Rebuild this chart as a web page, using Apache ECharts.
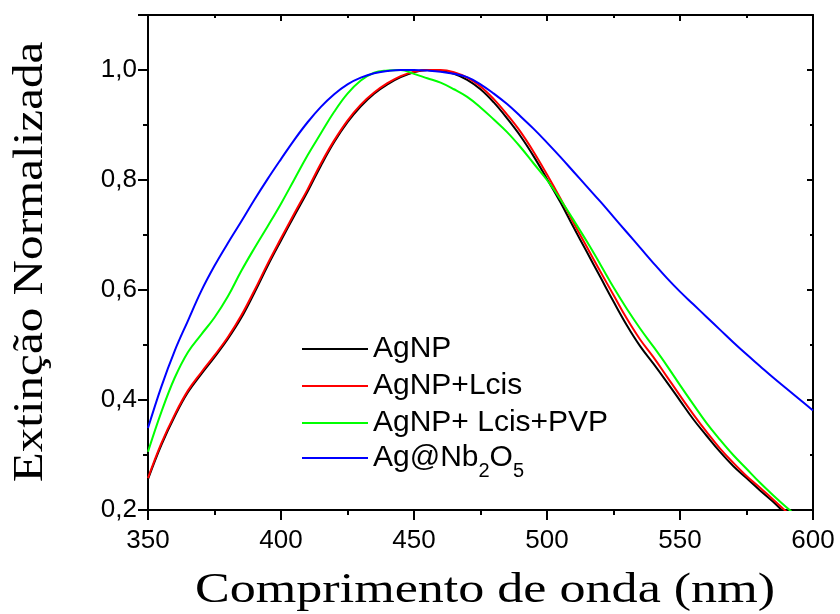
<!DOCTYPE html>
<html>
<head>
<meta charset="utf-8">
<script src="https://cdn.jsdelivr.net/npm/echarts@6/dist/echarts.min.js"></script>
<style>html,body{margin:0;padding:0;background:#fff}#c{width:840px;height:614px}</style>
</head>
<body>
<div id="c"></div>
<script>
const wavelength = [350,355,360,365,370,375,380,385,390,395,400,405,410,415,420,425,430,435,440,445,450,455,460,465,470,475,480,485,490,495,500,505,510,515,520,525,530,535,540,545,550,555,560,565,570,575,580,585,590,595,600];
const agnp = [0.256,0.318,0.370,0.414,0.447,0.478,0.511,0.549,0.595,0.644,0.690,0.735,0.779,0.826,0.869,0.905,0.934,0.957,0.974,0.987,0.996,1.000,0.998,0.993,0.982,0.965,0.941,0.912,0.880,0.843,0.802,0.760,0.714,0.669,0.624,0.579,0.536,0.498,0.466,0.433,0.399,0.365,0.335,0.306,0.280,0.258,0.236,0.215,0.192,0.172,0.153];
const agnpLcis = [0.258,0.321,0.373,0.417,0.450,0.481,0.514,0.553,0.599,0.648,0.694,0.739,0.783,0.830,0.872,0.908,0.937,0.959,0.976,0.989,0.997,1.000,1.000,0.996,0.986,0.970,0.947,0.919,0.888,0.851,0.810,0.767,0.722,0.678,0.634,0.591,0.548,0.510,0.478,0.443,0.408,0.374,0.342,0.312,0.286,0.262,0.241,0.219,0.197,0.176,0.157];
const agnpLcisPvp = [0.306,0.378,0.440,0.487,0.519,0.550,0.588,0.634,0.676,0.716,0.757,0.801,0.845,0.885,0.924,0.957,0.981,0.995,0.999,1.000,0.993,0.985,0.977,0.965,0.951,0.932,0.910,0.887,0.860,0.830,0.800,0.765,0.727,0.688,0.647,0.605,0.566,0.530,0.497,0.463,0.427,0.392,0.358,0.328,0.300,0.275,0.250,0.227,0.205,0.184,0.165];
const agNb2o5 = [0.349,0.424,0.489,0.544,0.598,0.644,0.685,0.724,0.764,0.802,0.838,0.873,0.905,0.933,0.956,0.974,0.986,0.994,0.998,1.000,1.000,0.999,0.997,0.993,0.987,0.974,0.957,0.938,0.916,0.893,0.868,0.842,0.815,0.788,0.761,0.733,0.705,0.677,0.649,0.622,0.597,0.574,0.551,0.528,0.505,0.483,0.462,0.441,0.421,0.401,0.381];
const seriesNames = ['AgNP','AgNP+Lcis','AgNP+ Lcis+PVP','Ag@Nb2O5'];
const seriesColors = ['#000000','#ff0000','#00ff00','#0000ff'];
const xTicks = [350,400,450,500,550,600];
const yTicks = [0.2,0.4,0.6,0.8,1.0];
const xTitle = 'Comprimento de onda (nm)';
const yTitle = 'Extinção Normalizada';

const allValues = [agnp, agnpLcis, agnpLcisPvp, agNb2o5];
const chart = echarts.init(document.getElementById('c'), null, {renderer:'canvas'});
const axisCommon = {
  axisLine:{show:true, onZero:false, lineStyle:{color:'#000', width:2}},
  splitLine:{show:false}
};
const sans = 'Liberation Sans, Arial, sans-serif';
const labelFont = {fontFamily:sans, fontSize:26, color:'#000'};
const serif = 'Liberation Serif, Times New Roman, serif';
const legendText = {fontFamily:sans, fontSize:30, color:'#000',
  rich:{
    n:{fontFamily:sans, fontSize:30, color:'#000', lineHeight:30},
    s:{fontFamily:sans, fontSize:20, color:'#000', lineHeight:8, padding:[26,0,0,0]}
  }};
const legendFmt = function(n){ return n === 'Ag@Nb2O5' ? '{n|Ag@Nb}{s|2}{n|O}{s|5}' : '{n|' + n + '}'; };
chart.setOption({
  animation:false,
  backgroundColor:'#fff',
  grid:{left:148, right:27, top:15, bottom:104, containLabel:false},
  xAxis:[
    Object.assign({type:'value', min:xTicks[0], max:xTicks[xTicks.length-1], interval:50, position:'bottom',
      axisTick:{show:true, inside:false, length:10, lineStyle:{width:2,color:'#000'}},
      minorTick:{show:true, splitNumber:2, length:5, lineStyle:{width:2,color:'#000'}},
      axisLabel:Object.assign({margin:18}, labelFont)}, axisCommon),
    Object.assign({type:'value', min:xTicks[0], max:xTicks[xTicks.length-1], interval:50, position:'top',
      axisTick:{show:true, inside:true, length:6, lineStyle:{width:2,color:'#000'}},
      minorTick:{show:true, splitNumber:2, length:3, lineStyle:{width:2,color:'#000'}},
      axisLabel:{show:false}}, axisCommon)
  ],
  yAxis:[
    Object.assign({type:'value', min:yTicks[0], max:1.1, interval:0.2, position:'left',
      axisTick:{show:true, inside:false, length:10, lineStyle:{width:2,color:'#000'}},
      minorTick:{show:true, splitNumber:2, length:5, lineStyle:{width:2,color:'#000'}},
      axisLabel:Object.assign({margin:11, showMaxLabel:false,
        formatter:v => v > 1.05 ? '' : v.toFixed(1).replace('.', ',')}, labelFont)}, axisCommon),
    Object.assign({type:'value', min:yTicks[0], max:1.1, interval:0.2, position:'right',
      axisTick:{show:true, inside:true, length:6, lineStyle:{width:2,color:'#000'}},
      minorTick:{show:true, splitNumber:2, length:3, lineStyle:{width:2,color:'#000'}},
      axisLabel:{show:false}}, axisCommon)
  ],
  legend:[
    {orient:'vertical', left:297, top:329, itemWidth:66, itemHeight:2, itemGap:7, icon:'rect',
     data:seriesNames.slice(0,3), formatter:legendFmt, textStyle:legendText},
    {orient:'vertical', left:297, top:430, itemWidth:66, itemHeight:2, itemGap:7, icon:'rect',
     data:seriesNames.slice(3), formatter:legendFmt, textStyle:legendText}
  ],
  graphic:[
    {type:'text', x:485, y:591, scaleX:1.24, style:{text:xTitle, font:'42px ' + serif, fill:'#000', align:'center', verticalAlign:'middle'}},
    {type:'text', x:31, y:262, rotation:Math.PI/2, scaleX:1.17, style:{text:yTitle, font:'42px ' + serif, fill:'#000', align:'center', verticalAlign:'middle'}}
  ],
  series: seriesNames.map((name,i) => ({
    name:name, type:'line', xAxisIndex:0, yAxisIndex:0, symbol:'none', smooth:0.4, clip:true,
    lineStyle:{color:seriesColors[i], width:2}, itemStyle:{color:seriesColors[i]},
    data: wavelength.map((w,j) => [w, allValues[i][j]])
  }))
});
</script>
</body>
</html>
